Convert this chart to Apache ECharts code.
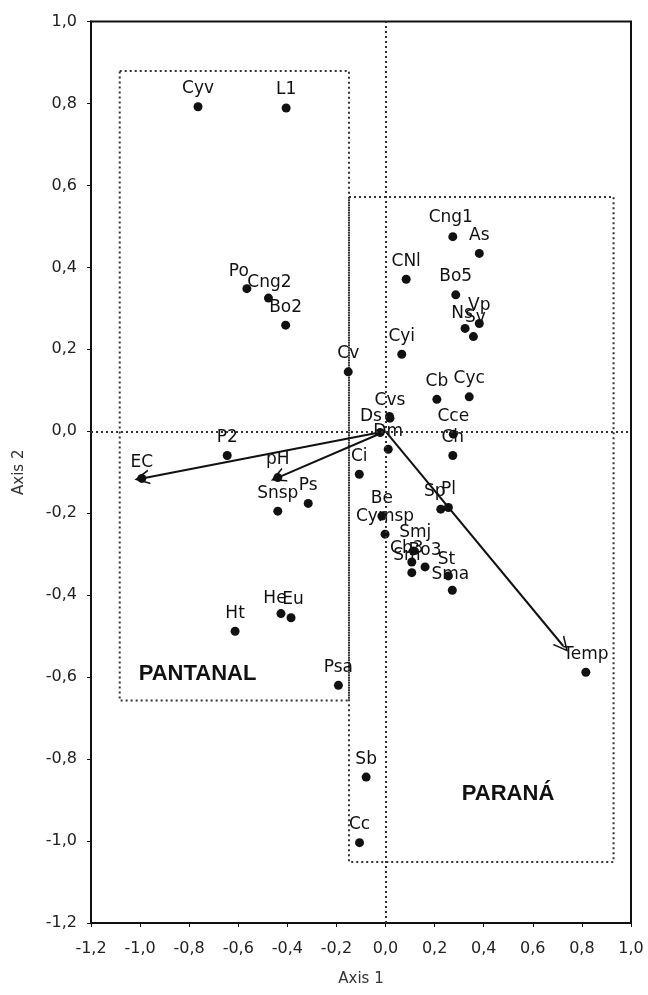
<!DOCTYPE html>
<html>
<head>
<meta charset="utf-8">
<script src="https://cdn.jsdelivr.net/npm/echarts@6/dist/echarts.min.js"></script>
<style>
  html, body { margin: 0; padding: 0; background: #fff; }
  #chart { width: 648px; height: 995px; }
</style>
</head>
<body>
<div id="chart"></div>
<script>
// Species scores on the first two ordination axes
const speciesNames = [
  'Cyv', 'L1', 'Cng1', 'As', 'CNl', 'Bo5', 'Vp', 'Ns', 'Sv', 'Cyi',
  'Cv', 'Cb', 'Cyc', 'Cvs', 'Ds', 'Dm', '', 'Cce', 'Ch', 'Ci',
  'Sp', 'Pl', 'Be', 'Cymsp', 'Smj', 'Cb3', 'Bo3', 'Sm', 'St', 'Sma',
  'Psa', 'P2', 'Snsp', 'Ps', 'Po', 'Cng2', 'Bo2', 'Ht', 'He', 'Eu',
  'Sb', 'Cc'
];
const speciesAxis1 = [
  -0.764, -0.405, 0.274, 0.382, 0.084, 0.286, 0.382, 0.324, 0.358, 0.066,
  -0.152, 0.209, 0.341, 0.018, 0.016, -0.022, 0.011, 0.276, 0.274, -0.107,
  0.225, 0.256, -0.015, -0.002, 0.113, 0.107, 0.161, 0.107, 0.256, 0.272,
  -0.192, -0.645, -0.439, -0.315, -0.565, -0.477, -0.407, -0.613, -0.426, -0.385,
  -0.079, -0.106
];
const speciesAxis2 = [
  0.792, 0.789, 0.475, 0.434, 0.371, 0.333, 0.263, 0.251, 0.231, 0.188,
  0.145, 0.078, 0.084, 0.032, 0.036, -0.003, -0.044, -0.007, -0.059, -0.105,
  -0.190, -0.186, -0.207, -0.251, -0.292, -0.319, -0.331, -0.345, -0.353, -0.388,
  -0.620, -0.059, -0.195, -0.176, 0.348, 0.325, 0.259, -0.488, -0.445, -0.455,
  -0.844, -1.004
];

// Environmental variables: plotted scores and the tips of their vectors
const variableNames = ['EC', 'pH', 'Temp'];
const variableAxis1 = [-0.993, -0.439, 0.816];
const variableAxis2 = [-0.115, -0.113, -0.588];
const vectorTipAxis1 = [-0.993, -0.439, 0.724];
const vectorTipAxis2 = [-0.115, -0.113, -0.524];

// Dotted boxes that group the two river systems
const regionNames = ['PANTANAL', 'PARANÁ'];
const regionBoxAxis1 = [[-1.083, -0.149], [-0.149, 0.929]];
const regionBoxAxis2 = [[0.879, -0.657], [0.572, -1.051]];
const regionLabelAxis1 = [-0.766, 0.499];
const regionLabelAxis2 = [-0.593, -0.886];

// Axis scale
const axisMin = -1.2;
const axisMax = 1.0;
const axisStep = 0.2;

// Per-label nudges where names crowd each other
const labelTweaks = {
  'Ds':   { position: 'left', distance: 3 },
  'Dm':   { position: 'inside', offset: [8, -1] },
  'Po':   { offset: [-8, 1] },
  'Cng2': { offset: [1, 2] },
  'He':   { offset: [-6, 3] },
  'Eu':   { offset: [2, 0] },
  'Ns':   { offset: [-3, 3] },
  'Sv':   { offset: [2, -1] },
  'Sp':   { offset: [-6, 0] },
  'Cng1': { offset: [-2, -1] },
  'Smj':  { offset: [2, 0] },
  'Cb3':  { offset: [-5, 5] },
  'Bo3':  { offset: [0, 2] },
  'Sm':   { offset: [-5, 1] },
  'St':   { offset: [-2, 2] },
  'Sma':  { offset: [-2, 2] },
  'EC':   { offset: [0, 2] }
};

const fmt = v => (Math.abs(v) < 1e-9 ? 0 : v).toFixed(1).replace('.', ',');

const pointLabel = name => Object.assign(
  { show: name !== '', position: 'top', distance: 5, offset: [0, 0] },
  labelTweaks[name] || {}
);

const speciesData = speciesNames.map((n, i) => ({
  name: n,
  value: [speciesAxis1[i], speciesAxis2[i]],
  label: pointLabel(n)
}));

const variableData = variableNames.map((n, i) => ({
  name: n,
  value: [variableAxis1[i], variableAxis2[i]],
  label: pointLabel(n)
}));

const vectorData = variableNames.map((n, i) => ({
  name: n,
  coords: [[0, 0], [vectorTipAxis1[i], vectorTipAxis2[i]]]
}));

const boxData = regionNames.map((n, i) => [
  { name: n, coord: [regionBoxAxis1[i][0], regionBoxAxis2[i][0]] },
  { coord: [regionBoxAxis1[i][1], regionBoxAxis2[i][1]] }
]);

const regionLabelData = regionNames.map((n, i) => ({
  name: n, value: [regionLabelAxis1[i], regionLabelAxis2[i]]
}));

const dotted = { type: [2, 3], color: '#333', width: 2, opacity: 1 };
const labelFont = { fontFamily: 'DejaVu Sans', fontSize: 17, color: '#111' };

const axisCommon = {
  type: 'value',
  min: axisMin,
  max: axisMax,
  interval: axisStep,
  splitLine: { show: false },
  axisLine: { show: true, onZero: false, lineStyle: { color: '#111', width: 2 } },
  axisTick: { show: true, inside: false, length: 4, lineStyle: { color: '#111', width: 1 } },
  axisLabel: { formatter: fmt, fontFamily: 'DejaVu Sans', fontSize: 16, color: '#222' },
  nameLocation: 'middle',
  nameTextStyle: { fontFamily: 'DejaVu Sans', fontSize: 15, color: '#333' }
};

const chart = echarts.init(document.getElementById('chart'), null, { renderer: 'canvas' });
chart.setOption({
  backgroundColor: '#fff',
  animation: false,
  grid: {
    left: 91, right: 17, top: 21.5, bottom: 72,
    show: true, borderColor: '#111', borderWidth: 2, backgroundColor: 'transparent'
  },
  xAxis: Object.assign({}, axisCommon, {
    name: 'Axis 1', nameGap: 49,
    axisLabel: Object.assign({}, axisCommon.axisLabel, { margin: 18 })
  }),
  yAxis: Object.assign({}, axisCommon, {
    name: 'Axis 2', nameGap: 64,
    axisLabel: Object.assign({}, axisCommon.axisLabel, { margin: 14 })
  }),
  series: [
    {
      type: 'scatter',
      name: 'species',
      symbol: 'circle',
      symbolSize: 9,
      itemStyle: { color: '#111', opacity: 1 },
      label: Object.assign({ formatter: '{b}' }, labelFont),
      emphasis: { disabled: true },
      data: speciesData,
      z: 3,
      markLine: {
        silent: true,
        symbol: ['none', 'none'],
        label: { show: false },
        lineStyle: dotted,
        data: [{ xAxis: 0 }, { yAxis: 0 }]
      },
      markArea: {
        silent: true,
        label: { show: false },
        itemStyle: {
          color: 'rgba(0,0,0,0)',
          borderColor: '#333',
          borderWidth: 2,
          borderType: [2, 3],
          opacity: 1
        },
        data: boxData
      }
    },
    {
      type: 'scatter',
      name: 'variables',
      symbol: 'circle',
      symbolSize: 9,
      itemStyle: { color: '#111', opacity: 1 },
      label: Object.assign({ formatter: '{b}' }, labelFont),
      emphasis: { disabled: true },
      data: variableData,
      z: 3
    },
    {
      type: 'lines',
      name: 'vectors',
      coordinateSystem: 'cartesian2d',
      polyline: false,
      symbol: ['none', 'path://M0,14 L6,0 L12,14 L10.6,14 L6,3.2 L1.4,14 Z'],
      symbolSize: [13, 15],
      lineStyle: { color: '#111', width: 2, opacity: 1, curveness: 0 },
      data: vectorData,
      z: 4
    },
    {
      type: 'scatter',
      name: 'regions',
      symbolSize: 0,
      silent: true,
      itemStyle: { opacity: 1 },
      emphasis: { disabled: true },
      label: {
        show: true, position: 'inside', formatter: '{b}',
        fontFamily: 'Liberation Sans', fontWeight: 'bold', fontSize: 22, color: '#111'
      },
      data: regionLabelData,
      z: 5
    }
  ]
});
</script>
</body>
</html>
